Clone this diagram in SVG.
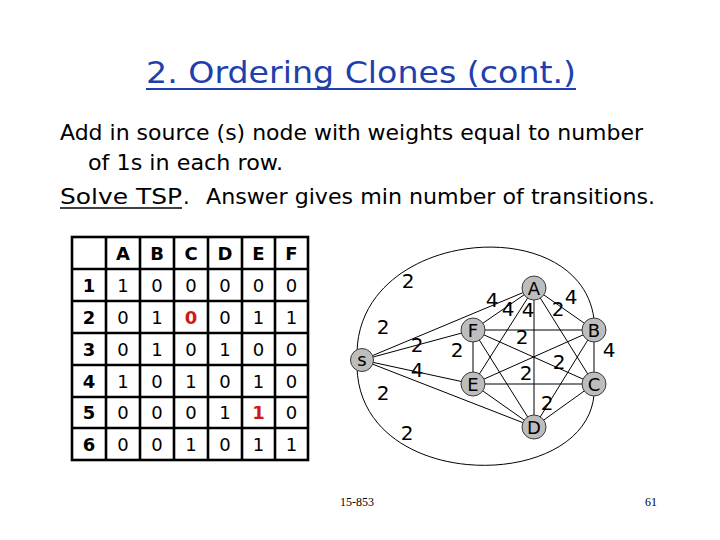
<svg xmlns="http://www.w3.org/2000/svg" width="720" height="540" viewBox="0 0 720 540">
<style>
.title{font-family:"DejaVu Sans","Liberation Sans",sans-serif;font-size:30px;fill:#1f3fae}
.body{font-family:"DejaVu Sans","Liberation Sans",sans-serif;font-size:21px;fill:#000}
.cell{font-family:"DejaVu Sans","Liberation Sans",sans-serif;font-size:18px;fill:#000;text-anchor:middle}
.hd{font-weight:bold}
.red{fill:#d01818;font-weight:bold}
.grid{stroke:#000;stroke-width:2.6;fill:none}
.edge{stroke:#000;stroke-width:1;fill:none}
.node circle{fill:#bdbdbd;stroke:#3a3a3a;stroke-width:1}
.node text{font-family:"DejaVu Sans","Liberation Sans",sans-serif;font-size:18px;fill:#000;text-anchor:middle}
.lbl{font-family:"DejaVu Sans","Liberation Sans",sans-serif;font-size:20px;fill:#000;text-anchor:middle}
.foot{font-family:"Liberation Serif",serif;font-size:12px;fill:#000}
</style>
<rect width="720" height="540" fill="#fff"/>
<g id="title">
<text class="title" x="146" y="83" textLength="430" lengthAdjust="spacingAndGlyphs">2. Ordering Clones (cont.)</text>
<line x1="146" y1="89" x2="576" y2="89" stroke="#1f3fae" stroke-width="2"/>
</g>
<g id="body">
<text class="body" x="60" y="140" textLength="583" lengthAdjust="spacingAndGlyphs">Add in source (s) node with weights equal to number</text>
<text class="body" x="88" y="170" textLength="195" lengthAdjust="spacingAndGlyphs">of 1s in each row.</text>
<text class="body" x="60" y="204" textLength="122" lengthAdjust="spacingAndGlyphs">Solve TSP</text>
<text class="body" x="183" y="204">.</text>
<text class="body" x="206" y="204" textLength="449" lengthAdjust="spacingAndGlyphs">Answer gives min number of transitions.</text>
<line x1="60" y1="208" x2="182" y2="208" stroke="#000" stroke-width="1.5"/>
</g>
<g id="table">
<rect class="grid" x="72" y="237" width="236" height="223"/>
<path class="grid" d="M106 237V460M140 237V460M174 237V460M208 237V460M242 237V460M275 237V460M72 269H308M72 301H308M72 333H308M72 365H308M72 397H308M72 428H308"/>
<g class="cell hd">
<text x="123" y="259.5">A</text><text x="157" y="259.5">B</text><text x="191" y="259.5">C</text><text x="225" y="259.5">D</text><text x="258.5" y="259.5">E</text><text x="291.5" y="259.5">F</text>
<text x="89" y="291.5">1</text><text x="89" y="323.5">2</text><text x="89" y="355.5">3</text><text x="89" y="387.5">4</text><text x="89" y="419">5</text><text x="89" y="450.5">6</text>
</g>
<g class="cell">
<text x="123" y="291.5">1</text><text x="157" y="291.5">0</text><text x="191" y="291.5">0</text><text x="225" y="291.5">0</text><text x="258.5" y="291.5">0</text><text x="291.5" y="291.5">0</text>
<text x="123" y="323.5">0</text><text x="157" y="323.5">1</text><text class="red" x="191" y="323.5">0</text><text x="225" y="323.5">0</text><text x="258.5" y="323.5">1</text><text x="291.5" y="323.5">1</text>
<text x="123" y="355.5">0</text><text x="157" y="355.5">1</text><text x="191" y="355.5">0</text><text x="225" y="355.5">1</text><text x="258.5" y="355.5">0</text><text x="291.5" y="355.5">0</text>
<text x="123" y="387.5">1</text><text x="157" y="387.5">0</text><text x="191" y="387.5">1</text><text x="225" y="387.5">0</text><text x="258.5" y="387.5">1</text><text x="291.5" y="387.5">0</text>
<text x="123" y="419">0</text><text x="157" y="419">0</text><text x="191" y="419">0</text><text x="225" y="419">1</text><text class="red" x="258.5" y="419">1</text><text x="291.5" y="419">0</text>
<text x="123" y="450.5">0</text><text x="157" y="450.5">0</text><text x="191" y="450.5">1</text><text x="225" y="450.5">0</text><text x="258.5" y="450.5">1</text><text x="291.5" y="450.5">1</text>
</g>
</g>
<g id="connectors">
<line class="edge" x1="362" y1="360" x2="534" y2="288"/>
<line class="edge" x1="362" y1="360" x2="473" y2="330"/>
<line class="edge" x1="362" y1="360" x2="473" y2="384"/>
<line class="edge" x1="362" y1="360" x2="534" y2="427"/>
<path class="edge" d="M357 352C360 228 580 210 594 319"/>
<path class="edge" d="M357 367C360 493 585 493 594 395"/>
<line class="edge" x1="534" y1="288" x2="473" y2="330"/>
<line class="edge" x1="534" y1="288" x2="473" y2="384"/>
<line class="edge" x1="534" y1="288" x2="534" y2="427"/>
<line class="edge" x1="534" y1="288" x2="594" y2="384"/>
<line class="edge" x1="534" y1="288" x2="594" y2="330"/>
<line class="edge" x1="473" y1="330" x2="594" y2="330"/>
<line class="edge" x1="473" y1="330" x2="594" y2="384"/>
<line class="edge" x1="473" y1="330" x2="534" y2="427"/>
<line class="edge" x1="473" y1="330" x2="473" y2="384"/>
<line class="edge" x1="594" y1="330" x2="473" y2="384"/>
<line class="edge" x1="594" y1="330" x2="534" y2="427"/>
<line class="edge" x1="594" y1="330" x2="594" y2="384"/>
<line class="edge" x1="473" y1="384" x2="594" y2="384"/>
<line class="edge" x1="473" y1="384" x2="534" y2="427"/>
<line class="edge" x1="594" y1="384" x2="534" y2="427"/>
</g>
<g id="edge-labels" class="lbl">
<text x="408" y="288">2</text>
<text x="383" y="334">2</text>
<text x="417" y="352">2</text>
<text x="457" y="357">2</text>
<text x="417" y="377">4</text>
<text x="383" y="400">2</text>
<text x="407" y="440">2</text>
<text x="492" y="307">4</text>
<text x="508" y="316">4</text>
<text x="528" y="317">4</text>
<text x="558" y="316">2</text>
<text x="571" y="304">4</text>
<text x="522" y="344">2</text>
<text x="609" y="357">4</text>
<text x="559" y="369">2</text>
<text x="526" y="380">2</text>
<text x="547" y="410">2</text>
</g>
<g id="node-s" class="node"><circle cx="362" cy="360" r="11.5"/><text x="362" y="366">s</text></g>
<g id="node-A" class="node"><circle cx="534" cy="288" r="12"/><text x="534" y="294.5">A</text></g>
<g id="node-F" class="node"><circle cx="473" cy="330" r="12"/><text x="473" y="336.5">F</text></g>
<g id="node-B" class="node"><circle cx="594" cy="330" r="12"/><text x="594" y="336.5">B</text></g>
<g id="node-E" class="node"><circle cx="473" cy="384" r="12"/><text x="473" y="390.5">E</text></g>
<g id="node-C" class="node"><circle cx="594" cy="384" r="12"/><text x="594" y="390.5">C</text></g>
<g id="node-D" class="node"><circle cx="534" cy="427" r="12"/><text x="534" y="433.5">D</text></g>
<g id="footer">
<text class="foot" x="340" y="506">15-853</text>
<text class="foot" x="645" y="506">61</text>
</g>
</svg>
